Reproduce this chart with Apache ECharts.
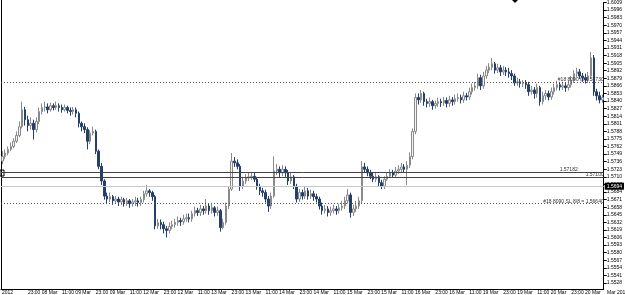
<!DOCTYPE html>
<html>
<head>
<meta charset="utf-8">
<script src="https://cdn.jsdelivr.net/npm/echarts@6/dist/echarts.min.js"></script>
<style>
  html, body { margin: 0; padding: 0; background: #fff; }
  #chart { width: 625px; height: 295px; }
</style>
</head>
<body>
<div id="chart"></div>
<script>
// GBPUSD H1, 8-20 Mar 2012
const firstOpen = 1.5737;

const closes = [
  1.5745,1.5751,1.5757,1.5762,1.5771,1.5781,1.5796,1.5825,1.5808,1.5798,
  1.5802,1.5791,1.5805,1.5822,1.5829,1.5830,1.5825,1.5832,1.5829,1.5832,
  1.5829,1.5825,1.5829,1.5824,1.5822,1.5825,1.5819,1.5802,1.5796,1.5791,
  1.5771,1.5785,1.5788,1.5754,1.5728,1.5703,1.5677,1.5672,1.5676,1.5669,
  1.5672,1.5667,1.5671,1.5666,1.5669,1.5664,1.5667,1.5669,1.5666,1.5671,
  1.5681,1.5686,1.5683,1.5676,1.5626,1.5632,1.5628,1.5621,1.5618,1.5625,
  1.5628,1.5632,1.5635,1.5633,1.5638,1.5640,1.5638,1.5647,1.5652,1.5649,
  1.5655,1.5652,1.5660,1.5652,1.5657,1.5649,1.5652,1.5623,1.5632,1.5660,
  1.5689,1.5737,1.5734,1.5728,1.5694,1.5703,1.5708,1.5710,1.5711,1.5706,
  1.5693,1.5686,1.5683,1.5672,1.5660,1.5677,1.5720,1.5723,1.5717,1.5723,
  1.5717,1.5703,1.5710,1.5694,1.5672,1.5683,1.5677,1.5686,1.5677,1.5681,
  1.5676,1.5672,1.5660,1.5652,1.5655,1.5649,1.5652,1.5655,1.5652,1.5657,
  1.5660,1.5669,1.5679,1.5649,1.5655,1.5660,1.5669,1.5727,1.5723,1.5717,
  1.5711,1.5706,1.5710,1.5700,1.5694,1.5706,1.5711,1.5717,1.5713,1.5720,
  1.5723,1.5727,1.5723,1.5730,1.5745,1.5788,1.5846,1.5842,1.5853,1.5839,
  1.5836,1.5839,1.5832,1.5836,1.5839,1.5837,1.5841,1.5836,1.5842,1.5839,
  1.5844,1.5846,1.5842,1.5849,1.5847,1.5856,1.5863,1.5866,1.5880,1.5866,
  1.5883,1.5893,1.5898,1.5904,1.5893,1.5897,1.5890,1.5893,1.5890,1.5887,
  1.5883,1.5871,1.5873,1.5870,1.5871,1.5868,1.5856,1.5859,1.5853,1.5863,
  1.5839,1.5849,1.5853,1.5847,1.5856,1.5863,1.5868,1.5864,1.5866,1.5863,
  1.5868,1.5876,1.5887,1.5890,1.5883,1.5880,1.5876,1.5883,1.5914,1.5856,
  1.5849,1.5842,1.5846
];

const highs = [
  1.5754,1.5757,1.5762,1.5769,1.5776,1.5788,1.5805,1.5839,1.5830,1.5815,
  1.5812,1.5808,1.5812,1.5829,1.5836,1.5839,1.5836,1.5837,1.5836,1.5839,
  1.5836,1.5834,1.5834,1.5832,1.5829,1.5830,1.5829,1.5822,1.5805,1.5802,
  1.5795,1.5790,1.5796,1.5791,1.5757,1.5734,1.5706,1.5683,1.5683,1.5679,
  1.5677,1.5676,1.5676,1.5674,1.5674,1.5672,1.5672,1.5676,1.5674,1.5676,
  1.5686,1.5696,1.5689,1.5686,1.5679,1.5638,1.5637,1.5633,1.5626,1.5632,
  1.5635,1.5638,1.5642,1.5640,1.5645,1.5647,1.5647,1.5652,1.5659,1.5657,
  1.5662,1.5660,1.5672,1.5664,1.5664,1.5660,1.5659,1.5655,1.5638,1.5666,
  1.5694,1.5751,1.5744,1.5740,1.5732,1.5710,1.5715,1.5717,1.5718,1.5717,
  1.5710,1.5698,1.5691,1.5688,1.5677,1.5683,1.5745,1.5732,1.5728,1.5730,
  1.5728,1.5722,1.5717,1.5713,1.5698,1.5689,1.5688,1.5693,1.5691,1.5688,
  1.5686,1.5681,1.5676,1.5666,1.5662,1.5660,1.5659,1.5662,1.5660,1.5664,
  1.5669,1.5676,1.5689,1.5683,1.5662,1.5669,1.5676,1.5737,1.5734,1.5728,
  1.5722,1.5717,1.5717,1.5713,1.5705,1.5711,1.5718,1.5723,1.5722,1.5727,
  1.5730,1.5734,1.5732,1.5737,1.5752,1.5793,1.5853,1.5853,1.5859,1.5856,
  1.5844,1.5846,1.5842,1.5841,1.5846,1.5844,1.5847,1.5846,1.5849,1.5847,
  1.5851,1.5853,1.5851,1.5856,1.5854,1.5863,1.5870,1.5873,1.5887,1.5885,
  1.5890,1.5900,1.5905,1.5914,1.5907,1.5904,1.5902,1.5900,1.5898,1.5897,
  1.5893,1.5887,1.5880,1.5878,1.5876,1.5876,1.5873,1.5866,1.5864,1.5870,
  1.5866,1.5856,1.5859,1.5858,1.5863,1.5870,1.5875,1.5873,1.5873,1.5871,
  1.5875,1.5883,1.5893,1.5897,1.5895,1.5888,1.5887,1.5890,1.5924,1.5919,
  1.5861,1.5856,1.5851
];

const lows = [
  1.5732,1.5740,1.5747,1.5754,1.5759,1.5768,1.5778,1.5793,1.5798,1.5788,
  1.5791,1.5774,1.5786,1.5800,1.5817,1.5822,1.5819,1.5822,1.5824,1.5825,
  1.5822,1.5820,1.5822,1.5819,1.5815,1.5817,1.5812,1.5795,1.5788,1.5785,
  1.5757,1.5766,1.5781,1.5749,1.5723,1.5696,1.5671,1.5664,1.5667,1.5662,
  1.5664,1.5660,1.5662,1.5659,1.5660,1.5657,1.5659,1.5660,1.5659,1.5660,
  1.5666,1.5676,1.5676,1.5669,1.5620,1.5621,1.5620,1.5613,1.5606,1.5613,
  1.5620,1.5623,1.5626,1.5626,1.5628,1.5633,1.5632,1.5633,1.5642,1.5643,
  1.5643,1.5645,1.5647,1.5645,1.5647,1.5642,1.5643,1.5616,1.5620,1.5628,
  1.5655,1.5686,1.5727,1.5723,1.5686,1.5689,1.5698,1.5703,1.5705,1.5701,
  1.5688,1.5679,1.5676,1.5666,1.5650,1.5655,1.5674,1.5713,1.5710,1.5711,
  1.5710,1.5696,1.5698,1.5689,1.5666,1.5667,1.5671,1.5672,1.5671,1.5672,
  1.5669,1.5666,1.5654,1.5645,1.5647,1.5642,1.5643,1.5647,1.5645,1.5647,
  1.5652,1.5655,1.5664,1.5640,1.5643,1.5650,1.5655,1.5664,1.5717,1.5711,
  1.5706,1.5701,1.5701,1.5694,1.5689,1.5689,1.5703,1.5708,1.5708,1.5710,
  1.5715,1.5718,1.5717,1.5696,1.5725,1.5740,1.5783,1.5834,1.5837,1.5832,
  1.5829,1.5830,1.5825,1.5827,1.5830,1.5830,1.5832,1.5829,1.5830,1.5832,
  1.5834,1.5839,1.5836,1.5837,1.5841,1.5842,1.5851,1.5858,1.5861,1.5859,
  1.5861,1.5878,1.5888,1.5893,1.5887,1.5888,1.5883,1.5885,1.5883,1.5880,
  1.5876,1.5866,1.5866,1.5863,1.5864,1.5861,1.5849,1.5851,1.5844,1.5846,
  1.5832,1.5834,1.5842,1.5841,1.5842,1.5851,1.5858,1.5858,1.5859,1.5856,
  1.5858,1.5863,1.5871,1.5881,1.5878,1.5873,1.5870,1.5871,1.5878,1.5849,
  1.5841,1.5836,1.5837
];

// rótulos do eixo de tempo (um a cada 12 barras, a partir da barra 9)
const timeLabels = [
  '23:00 08 Mar','11:00 09 Mar','23:00 09 Mar','11:00 12 Mar','23:00 12 Mar',
  '11:00 13 Mar','23:00 13 Mar','11:00 14 Mar','23:00 14 Mar','11:00 15 Mar',
  '23:00 15 Mar','11:00 16 Mar','23:00 16 Mar','11:00 19 Mar','23:00 19 Mar',
  '11:00 20 Mar','23:00 20 Mar'
];
const firstLabelBar = 9;
const labelStep = 12;

// escala de preços à direita
const priceTicks = [
  1.5528,1.5541,1.5554,1.5567,1.5580,1.5593,1.5606,1.5619,1.5632,1.5645,
  1.5658,1.5671,1.5684,1.5697,1.5710,1.5723,1.5736,1.5749,1.5762,1.5775,
  1.5788,1.5801,1.5814,1.5827,1.5840,1.5853,1.5866,1.5879,1.5892,1.5905,
  1.5918,1.5931,1.5944,1.5957,1.5970,1.5983,1.5996,1.6009
];

// linhas horizontais (ordens / níveis)
const tpLevel = 1.5873;
const upperLevel = 1.57182;
const lowerLevel = 1.57100;
const bidLevel = 1.5694;
const slLevel = 1.5664;

const candles = closes.map(function (c, i) {
  const o = i === 0 ? firstOpen : closes[i - 1];
  return [o, c, lows[i], highs[i]];
});
const barIndex = closes.map(function (c, i) { return String(i); });

function isLabelBar(i) {
  return i >= firstLabelBar && (i - firstLabelBar) % labelStep === 0;
}

const font = 'Liberation Sans, Arial, sans-serif';
const smallText = { fontSize: 5, color: '#333', fontFamily: font };

var chart = echarts.init(document.getElementById('chart'), null, { renderer: 'canvas' });

var option = {
  animation: false,
  backgroundColor: '#ffffff',
  grid: { left: 1, right: 20, top: 0, bottom: 6 },
  xAxis: {
    type: 'category',
    data: barIndex,
    boundaryGap: true,
    axisLine: { lineStyle: { color: '#000', width: 1 } },
    axisTick: {
      alignWithLabel: true,
      interval: function (i) { return isLabelBar(i); },
      length: 2,
      lineStyle: { color: '#000' }
    },
    axisLabel: {
      interval: function (i) { return isLabelBar(i); },
      formatter: function (v, i) {
        return timeLabels[(i - firstLabelBar) / labelStep] || '';
      },
      align: 'left',
      margin: 1,
      fontSize: 5,
      color: '#000',
      fontFamily: font
    },
    splitLine: { show: false }
  },
  yAxis: {
    type: 'value',
    position: 'right',
    min: 1.55177,
    max: 1.6009,
    scale: true,
    axisLine: { show: true, lineStyle: { color: '#000', width: 1 } },
    axisTick: {
      show: true,
      customValues: priceTicks,
      length: 3,
      lineStyle: { color: '#000' }
    },
    axisLabel: {
      customValues: priceTicks,
      formatter: function (v) { return v.toFixed(4); },
      margin: 3,
      fontSize: 5,
      color: '#000',
      fontFamily: font
    },
    splitLine: { show: false }
  },
  series: [{
    type: 'candlestick',
    data: candles,
    barWidth: 2,
    itemStyle: {
      color: '#f4f4f4',
      color0: '#243f6c',
      borderColor: '#8a8a8a',
      borderColor0: '#243f6c',
      borderWidth: 1
    },
    markLine: {
      silent: true,
      symbol: 'none',
      precision: 5,
      animation: false,
      data: [
        {
          yAxis: tpLevel,
          lineStyle: { type: [1, 2], color: '#555', width: 1 },
          label: Object.assign({ position: 'insideEndTop', distance: 0,
            formatter: '#18 8090 tp 1.58730' }, smallText)
        },
        {
          yAxis: upperLevel,
          lineStyle: { type: 'solid', color: '#444', width: 1 },
          label: Object.assign({ position: 'insideEndTop', distance: [26, 0],
            formatter: '1.57182' }, smallText)
        },
        {
          yAxis: lowerLevel,
          lineStyle: { type: 'solid', color: '#444', width: 1 },
          label: Object.assign({ position: 'insideEndTop', distance: 0,
            formatter: '1.57100' }, smallText)
        },
        {
          yAxis: bidLevel,
          lineStyle: { type: 'solid', color: '#c8c8c8', width: 1 },
          label: {
            position: 'end',
            distance: 1,
            formatter: '1.5694',
            fontSize: 5,
            fontFamily: font,
            color: '#fff',
            backgroundColor: '#000',
            padding: [1, 2]
          }
        },
        {
          yAxis: slLevel,
          lineStyle: { type: [1, 2], color: '#555', width: 1 },
          label: Object.assign({ position: 'insideEndTop', distance: 0,
            formatter: '#18 8090 SL 8/8 = 1.56640' }, smallText)
        }
      ]
    }
  }],
  graphic: [
    { type: 'line', shape: { x1: 1.5, y1: 0, x2: 1.5, y2: 289 },
      style: { stroke: '#000', lineWidth: 1 } },
    { type: 'rect', shape: { x: 0, y: 170, width: 4, height: 6 },
      style: { fill: 'none', stroke: '#000', lineWidth: 1 } },
    { type: 'polygon', shape: { points: [[512, 0], [518, 0], [515, 3]] },
      style: { fill: '#000' } },
    { type: 'text', left: 2, top: 290,
      style: { text: '2012', fontSize: 5, fill: '#000', fontFamily: font } },
    { type: 'text', left: 607, top: 290,
      style: { text: 'Mar 2012', fontSize: 5, fill: '#000', fontFamily: font } }
  ]
};

chart.setOption(option);
</script>
</body>
</html>
